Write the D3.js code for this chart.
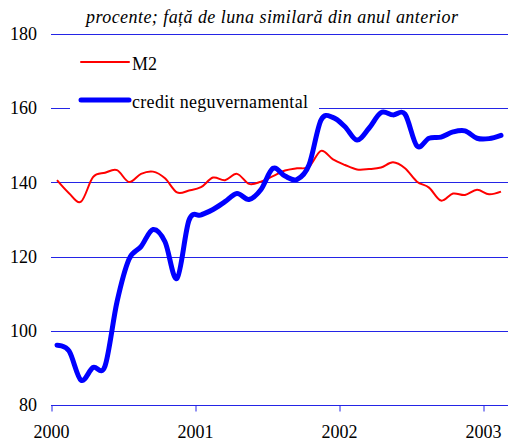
<!DOCTYPE html>
<html>
<head>
<meta charset="utf-8">
<script src="https://cdn.jsdelivr.net/npm/d3@7"></script>
<style>
  body { margin: 0; background: #fff; }
  svg text { font-family: 'Liberation Serif', 'Times New Roman', Times, 'DejaVu Serif', serif; fill: #000; }
</style>
</head>
<body>
<svg id="chart" width="509" height="441"></svg>
<script>
// monthly data, Jan 2000 .. Feb 2003
var months = d3.range(38)
var m2 = [140.6, 137.1, 134.8, 141.4, 142.6, 143.3, 140.1, 142.3, 142.9, 141.1, 137.3, 137.8,
          138.7, 141.3, 140.6, 142.3, 139.6, 140.2, 141.7, 143.2, 143.8, 144.2, 148.5, 146.2,
          144.7, 143.5, 143.6, 144.0, 145.4, 143.8, 140.2, 138.6, 135.1, 137.0, 136.6, 138.0,
          136.8, 137.5]
var credit = [96.1, 94.6, 86.7, 90.1, 90.5, 107.8, 119.3, 122.7, 127.3, 124.0, 114.1, 129.8,
              131.2, 132.7, 134.8, 137.0, 135.4, 138.1, 143.8, 141.7, 140.8, 144.7, 156.8, 157.5,
              155.0, 151.4, 154.6, 158.8, 158.2, 158.4, 149.8, 151.9, 152.2, 153.6, 153.9, 151.9,
              151.8, 152.7]
var yTicks = [80, 100, 120, 140, 160, 180]
var yearLabels = ["2000", "2001", "2002", "2003"]
var title = "procente; față de luna similară din anul anterior"

var FONT = "'Liberation Serif', 'Times New Roman', Times, 'DejaVu Serif', serif"

var svg = d3.select("#chart")
const margin = {top: 34, right: 1, bottom: 36, left: 51}
var width = 509, height = 441

var x = d3.scaleLinear()
    .domain([0, 12])
    .range([margin.left, margin.left + 144]);
var y = d3.scaleLinear()
    .domain([80, 180])
    .range([height - margin.bottom, margin.top]);

var gridColor = "#2424e6"

// gridlines
svg.append("g").selectAll("line")
    .data(yTicks).enter()
    .append("line")
    .attr("x1", margin.left)
    .attr("x2", width - margin.right)
    .attr("y1", d => Math.round(y(d)) + 0.5)
    .attr("y2", d => Math.round(y(d)) + 0.5)
    .attr("stroke", gridColor)
    .attr("stroke-width", 1);

// x axis ticks (year boundaries)
var xAxis = d3.axisBottom(x)
    .tickValues([0, 12, 24, 36])
    .tickFormat((d, i) => yearLabels[i])
    .tickSize(6)
    .tickPadding(14);
var gx = svg.append("g")
    .attr("transform", "translate(0," + (Math.round(y(80)) + 0.5) + ")")
    .call(xAxis)
    .attr("font-family", FONT)
    .attr("font-size", 18);
gx.select(".domain").remove();
gx.selectAll("line").attr("stroke", gridColor).attr("transform", "translate(0.5,0)");
gx.selectAll("text").attr("fill", "#000");

// y labels
var yAxis = d3.axisLeft(y).tickValues(yTicks).tickSize(0).tickPadding(14);
var gy = svg.append("g")
    .attr("transform", "translate(" + margin.left + ",0)")
    .call(yAxis)
    .attr("font-family", FONT)
    .attr("font-size", 18);
gy.select(".domain").remove();
gy.selectAll("text").attr("fill", "#000");

// title
svg.append("text")
    .attr("x", 272)
    .attr("y", 23)
    .attr("text-anchor", "middle")
    .attr("font-family", FONT)
    .attr("font-style", "italic")
    .attr("font-size", 18)
    .attr("textLength", 372)
    .attr("lengthAdjust", "spacing")
    .text(title);

// series
var line = d3.line()
    .x(d => x(d[0] + 0.5))
    .y(d => y(d[1]))
    .curve(d3.curveCardinal.tension(0));

svg.append("path")
    .datum(months.map(i => [i, m2[i]]))
    .attr("fill", "none")
    .attr("stroke", "#ff0000")
    .attr("stroke-width", 2)
    .attr("d", line);

svg.append("path")
    .datum(months.map(i => [i, credit[i]]))
    .attr("fill", "none")
    .attr("stroke", "#0000ff")
    .attr("stroke-width", 5)
    .attr("stroke-linejoin", "round")
    .attr("stroke-linecap", "round")
    .attr("d", line);

// legend
var legend = svg.append("g");
legend.append("rect")
    .attr("x", 70).attr("y", 44)
    .attr("width", 249).attr("height", 72)
    .attr("fill", "#fff");
var legendItems = [
    {name: "M2", color: "#ff0000", w: 2, ly: 62, ty: 70, len: null},
    {name: "credit neguvernamental", color: "#0000ff", w: 5, ly: 100, ty: 108, len: 176}
];
legendItems.forEach(function(item) {
    legend.append("line")
        .attr("x1", 81).attr("x2", 129)
        .attr("y1", item.ly).attr("y2", item.ly)
        .attr("stroke", item.color)
        .attr("stroke-width", item.w)
        .attr("stroke-linecap", "round");
    var t = legend.append("text")
        .attr("x", 132)
        .attr("y", item.ty)
        .attr("font-family", FONT)
        .attr("font-size", 18)
        .text(item.name);
    if (item.len) t.attr("textLength", item.len).attr("lengthAdjust", "spacing");
});
</script>
</body>
</html>
